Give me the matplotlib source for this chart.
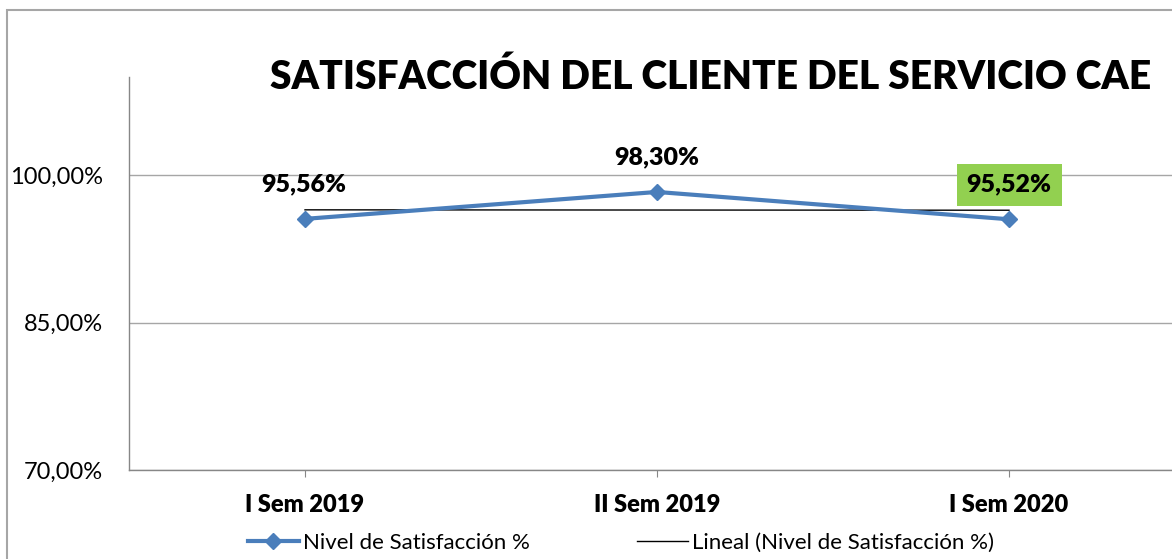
import matplotlib
matplotlib.use("Agg")
import matplotlib.pyplot as plt
from matplotlib.patches import Rectangle
import numpy as np

categories = ["I Sem 2019", "II Sem 2019", "I Sem 2020"]
values = [95.56, 98.30, 95.52]
labels = ["95,56%", "98,30%", "95,52%"]
yticks = [70, 85, 100]
ytick_labels = ["70,00%", "85,00%", "100,00%"]

W, H = 1172, 559
fig = plt.figure(figsize=(W / 100, H / 100), dpi=100)
plt.rcParams['font.family'] = ['Lato', 'DejaVu Sans']

# outer chart border
fig.patches.append(Rectangle((7 / W, -0.1), 2, 1 - 10 / H + 0.1, transform=fig.transFigure,
                             fill=False, edgecolor="#A6A6A6", linewidth=1.5))

ax = fig.add_axes([129 / W, 1 - 470 / H, (1185 - 129) / W, (470 - 77) / H])
ax.set_facecolor("none")
x = np.arange(len(categories))
ax.set_xlim(-0.5, len(categories) - 0.5)
ax.set_ylim(70, 110)

ax.set_yticks(yticks)
ax.set_yticklabels(ytick_labels, fontsize=17)
ax.tick_params(axis="y", length=0, pad=19)
ax.set_xticks(x)
ax.set_xticklabels(categories, fontsize=17, fontweight="heavy")
ax.tick_params(axis="x", length=5, color="#878787", pad=12)
ax.yaxis.grid(True, color="#A6A6A6", linewidth=1)
ax.set_axisbelow(True)
for s in ["top", "right"]:
    ax.spines[s].set_visible(False)
for s in ["left", "bottom"]:
    ax.spines[s].set_color("#878787")
    ax.spines[s].set_linewidth(1)

line, = ax.plot(x, values, color="#4A7EBB", linewidth=3, marker="D", markersize=8,
                label="Nivel de Satisfacción %", zorder=4)
coef = np.polyfit(x, values, 1)
trend, = ax.plot(x, np.polyval(coef, x), color="black", linewidth=1,
                 label="Lineal (Nivel de Satisfacción %)", zorder=3)

offsets = [(-1, 17), (0, 17), (0, 17)]
for i, (v, lab) in enumerate(zip(values, labels)):
    kw = {}
    if i == 2:
        kw["bbox"] = dict(boxstyle="square,pad=0.4", facecolor="#92D050", edgecolor="none")
    ax.annotate(lab, (x[i], v), xytext=offsets[i], textcoords="offset points",
                ha="center", va="bottom", fontsize=18, fontweight="heavy", **kw)

fig.text(270 / W, 1 - 77 / H, "SATISFACCIÓN DEL CLIENTE DEL SERVICIO CAE",
         fontsize=28, fontweight="heavy", ha="left", va="center")

fig.legend(handles=[line, trend], loc="center", bbox_to_anchor=(621 / W, 1 - 543 / H),
           ncol=2, frameon=False, fontsize=16, columnspacing=4.8, handlelength=2.3,
           handletextpad=0.2)

fig.savefig("out.png", dpi=100)
